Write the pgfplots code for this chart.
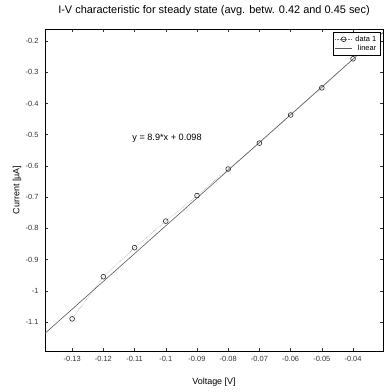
\documentclass[border=0pt]{standalone}
\usepackage{fontspec}
\setmainfont{Liberation Sans}
\usepackage{pgfplots}
\pgfplotsset{compat=1.18}
\begin{document}
\begin{tikzpicture}
\begin{axis}[
  name=ax,
  scale only axis,
  width=338bp, height=322bp,
  xmin=-0.1387, xmax=-0.0304,
  ymin=-1.193, ymax=-0.1615,
  xtick={-0.13,-0.12,-0.11,-0.1,-0.09,-0.08,-0.07,-0.06,-0.05,-0.04},
  ytick={-1.1,-1,-0.9,-0.8,-0.7,-0.6,-0.5,-0.4,-0.3,-0.2},
  xticklabels={-0.13,-0.12,-0.11,-0.1,-0.09,-0.08,-0.07,-0.06,-0.05,-0.04},
  yticklabels={-1.1,-1,-0.9,-0.8,-0.7,-0.6,-0.5,-0.4,-0.3,-0.2},
  tick label style={font=\fontsize{7.5}{8}\selectfont, color=black!80},
  xticklabel style={yshift=-2bp},
  yticklabel style={xshift=-3bp},
  tick align=inside, major tick length=3bp,
  xtick pos=both, ytick pos=both,
  tick style={black!80, line width=0.5pt},
  xlabel={Voltage [V]}, ylabel={Current [μA]},
  every axis x label/.style={at={(axis description cs:0.5,-0.096)}, anchor=center},
  every axis y label/.style={at={(axis description cs:-0.083,0.5)}, anchor=center, rotate=90},
  label style={font=\fontsize{9}{10}\selectfont},
  title={I-V characteristic for steady state (avg. betw. 0.42 and 0.45 sec)},
  title style={font=\fontsize{11}{12}\selectfont, at={(0.5,1)}, anchor=base, yshift=10bp},
  axis line style={black, line width=0.9pt},
  legend style={at={(1,1)}, anchor=north east, xshift=-2bp, yshift=-3bp, font=\fontsize{7.5}{8}\selectfont, draw=black, line width=0.6pt, inner sep=1.5pt, row sep=-1.5pt, nodes={inner xsep=3pt}},
  legend cell align=right,
]
\addplot[black!55, densely dotted, mark=o, mark size=2.4pt, mark options={solid, black!85, line width=0.6pt}] coordinates {
(-0.13,-1.09) (-0.12,-0.955) (-0.11,-0.862) (-0.10,-0.777) (-0.09,-0.695)
(-0.08,-0.610) (-0.07,-0.527) (-0.06,-0.437) (-0.05,-0.350) (-0.04,-0.257)
};
\addlegendentry{data 1}
\addplot[black!65, line width=0.6pt] coordinates {
(-0.1387,-1.1364) (-0.0304,-0.1726)
};
\addlegendentry{linear}
\node[font=\fontsize{9.2}{10}\selectfont] at (axis cs:-0.0996,-0.512) {y = 8.9*x + 0.098};
\end{axis}
\pgfresetboundingbox
\path ([xshift=-45bp,yshift=-41bp]ax.south west) rectangle ([xshift=2bp,yshift=29bp]ax.north east);
\end{tikzpicture}
\end{document}
